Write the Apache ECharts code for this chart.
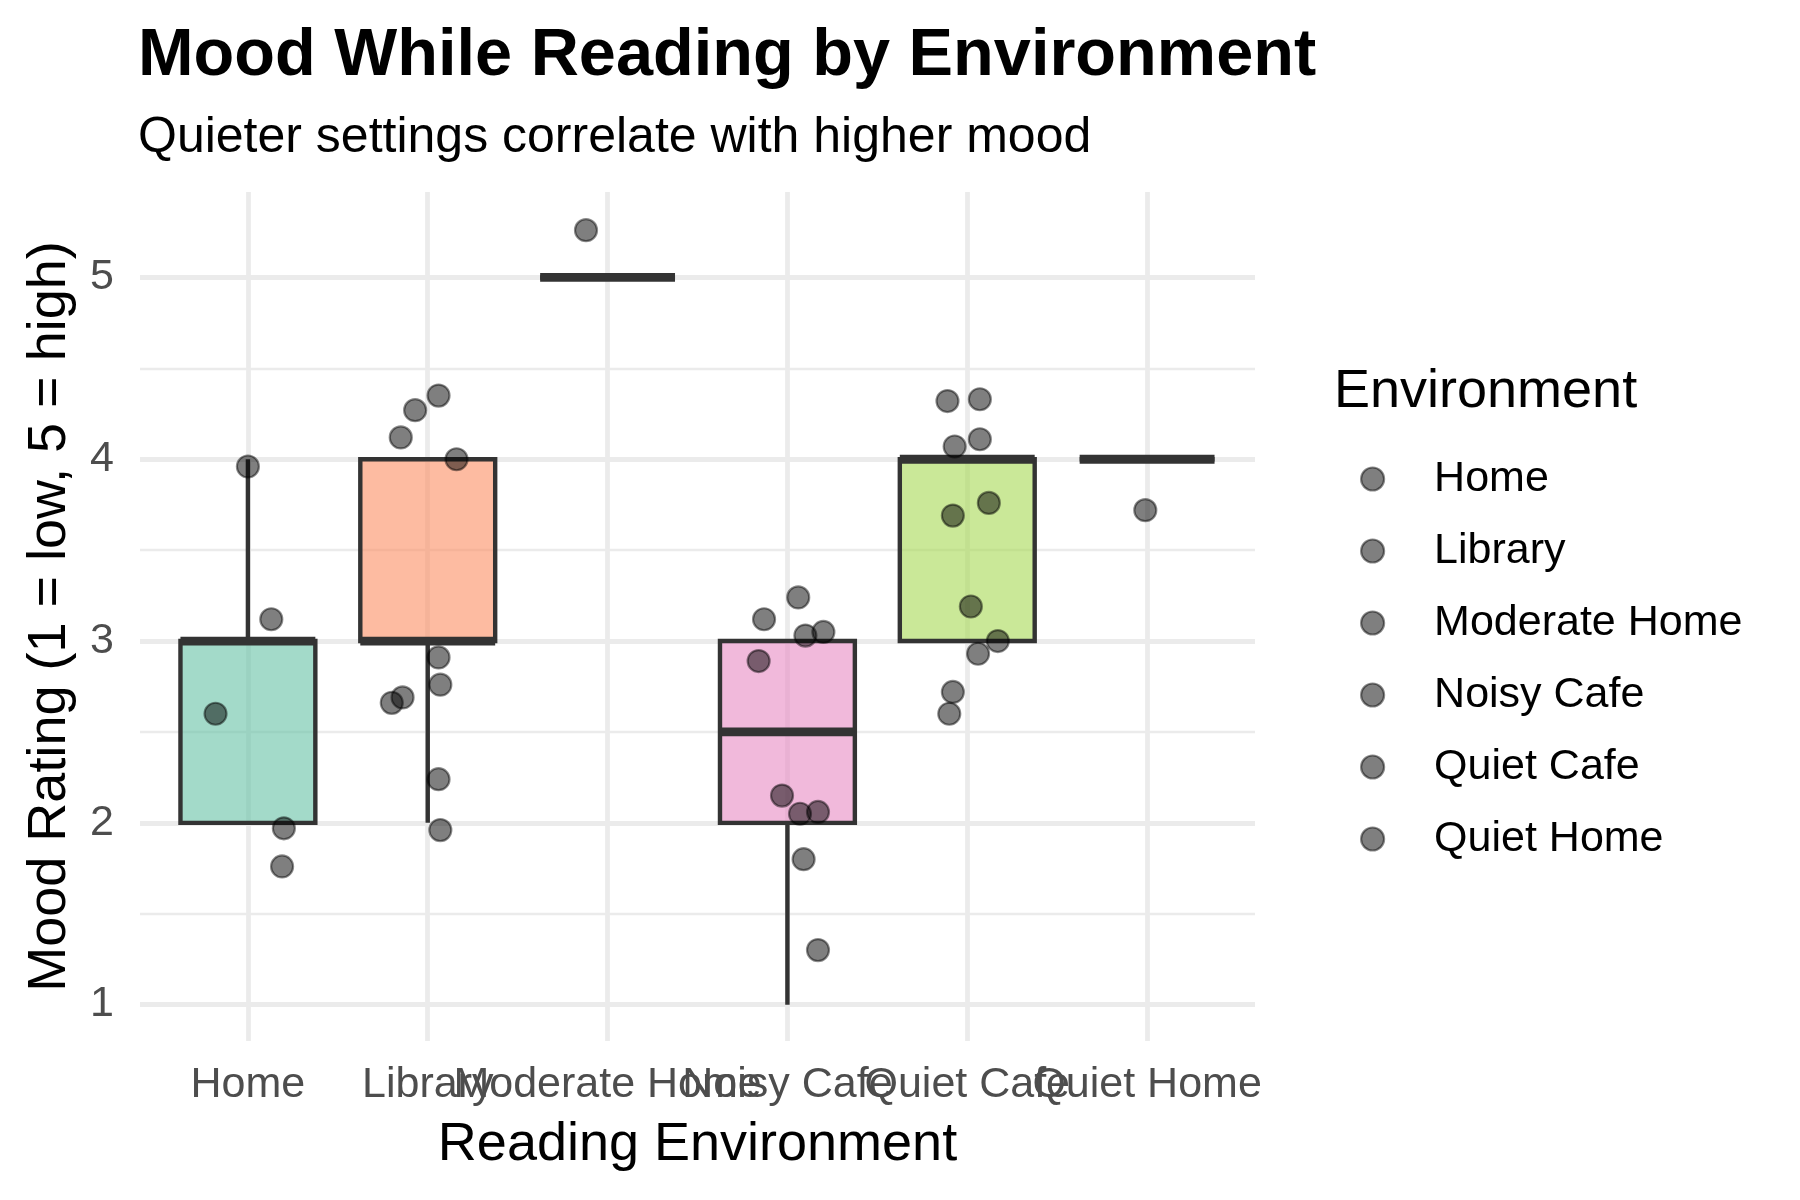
<!DOCTYPE html>
<html>
<head>
<meta charset="utf-8">
<script src="https://cdn.jsdelivr.net/npm/echarts@6/dist/echarts.min.js"></script>
<style>
html,body{margin:0;padding:0;background:#fff;}
#chart{width:1800px;height:1200px;}
</style>
</head>
<body>
<div id="chart"></div>
<script>
// ---------- data ----------
const categories = ['Home', 'Library', 'Moderate Home', 'Noisy Cafe', 'Quiet Cafe', 'Quiet Home'];

// box statistics per category
const whiskerLow  = [2, 2, 5, 1,   3, 4];
const q1Values    = [2, 3, 5, 2,   3, 4];
const medians     = [3, 3, 5, 2.5, 4, 4];
const q3Values    = [3, 4, 5, 3,   4, 4];
const whiskerHigh = [4, 4, 5, 3,   4, 4];

// jittered points (mood value, horizontal jitter in category units)
const homeMood = [3.96, 3.12, 2.60, 1.97, 1.76];
const homeJitter = [0.00, 0.13, -0.18, 0.20, 0.19];
const libraryMood = [4.35, 4.27, 4.12, 4.00, 2.91, 2.76, 2.69, 2.66, 2.24, 1.96];
const libraryJitter = [0.06, -0.07, -0.15, 0.16, 0.06, 0.07, -0.14, -0.20, 0.06, 0.07];
const moderateHomeMood = [5.26];
const moderateHomeJitter = [-0.12];
const noisyCafeMood = [3.24, 3.12, 3.03, 3.05, 2.89, 2.15, 2.05, 2.06, 1.80, 1.30];
const noisyCafeJitter = [0.06, -0.13, 0.10, 0.20, -0.16, -0.03, 0.07, 0.17, 0.09, 0.17];
const quietCafeMood = [4.32, 4.33, 4.07, 4.11, 3.69, 3.76, 3.19, 3.00, 2.93, 2.72, 2.60];
const quietCafeJitter = [-0.11, 0.07, -0.07, 0.07, -0.08, 0.12, 0.02, 0.17, 0.06, -0.08, -0.10];
const quietHomeMood = [3.72];
const quietHomeJitter = [-0.01];

const majorY = [1, 2, 3, 4, 5];
const minorY = [1.5, 2.5, 3.5, 4.5];
const majorX = [0, 1, 2, 3, 4, 5];

// ---------- styles ----------
const FONT = "'Liberation Sans', Arial, Helvetica, sans-serif";
const boxFills = ['rgba(102,194,165,0.6)', 'rgba(252,141,98,0.6)', 'rgba(141,160,203,0.6)',
                  'rgba(231,138,195,0.6)', 'rgba(166,216,84,0.6)', 'rgba(255,217,47,0.6)'];
const BOX_WIDTH = 0.75;
const GRID_COLOR = '#EBEBEB';

const moodByCat = [homeMood, libraryMood, moderateHomeMood, noisyCafeMood, quietCafeMood, quietHomeMood];
const jitterByCat = [homeJitter, libraryJitter, moderateHomeJitter, noisyCafeJitter, quietCafeJitter, quietHomeJitter];

const boxData = categories.map((c, i) => [i, whiskerLow[i], q1Values[i], medians[i], q3Values[i], whiskerHigh[i]]);

function renderBox(params, api) {
  const x = api.value(0);
  const lo = api.value(1), q1 = api.value(2), med = api.value(3), q3 = api.value(4), hi = api.value(5);
  const half = api.size([BOX_WIDTH, 0])[0] / 2;
  const pLo = api.coord([x, lo]), pQ1 = api.coord([x, q1]), pMed = api.coord([x, med]);
  const pQ3 = api.coord([x, q3]), pHi = api.coord([x, hi]);
  const cx = pQ1[0];
  const stroke = '#333333';
  const children = [];
  if (lo < q1) {
    children.push({type: 'line', shape: {x1: cx, y1: pLo[1], x2: cx, y2: pQ1[1]},
      style: {stroke: stroke, lineWidth: 4.4}});
  }
  if (hi > q3) {
    children.push({type: 'line', shape: {x1: cx, y1: pQ3[1], x2: cx, y2: pHi[1]},
      style: {stroke: stroke, lineWidth: 4.4}});
  }
  children.push({type: 'rect', shape: {x: cx - half, y: pQ3[1], width: 2 * half, height: pQ1[1] - pQ3[1]},
    style: {fill: boxFills[params.dataIndex], stroke: stroke, lineWidth: 4.4}});
  children.push({type: 'line', shape: {x1: cx - half, y1: pMed[1], x2: cx + half, y2: pMed[1]},
    style: {stroke: stroke, lineWidth: 8.8, lineCap: 'butt'}});
  return {type: 'group', children: children};
}

const gridLines = [];
majorY.forEach(v => gridLines.push({yAxis: v, lineStyle: {width: 4.8, color: GRID_COLOR, type: 'solid'}}));
minorY.forEach(v => gridLines.push({yAxis: v, lineStyle: {width: 2.4, color: GRID_COLOR, type: 'solid'}}));
majorX.forEach(v => gridLines.push({xAxis: v, lineStyle: {width: 4.8, color: GRID_COLOR, type: 'solid'}}));

const pointSeries = categories.map((name, i) => ({
  name: name,
  type: 'scatter',
  z: 20,
  symbol: 'circle',
  symbolSize: 22,
  silent: true,
  itemStyle: {color: 'rgba(0,0,0,0.5)', borderColor: 'rgba(0,0,0,0.45)', borderWidth: 2.2, opacity: 1},
  data: moodByCat[i].map((m, k) => [i + jitterByCat[i][k], m])
}));

function isInt(v) { return Math.abs(v - Math.round(v)) < 1e-6; }

const option = {
  animation: false,
  backgroundColor: '#ffffff',
  textStyle: {fontFamily: FONT},
  title: [
    {text: 'Mood While Reading by Environment', left: 138, top: 23, padding: 0,
     textStyle: {fontFamily: FONT, fontSize: 66.7, fontWeight: 'bold', color: '#000', lineHeight: 67}},
    {text: 'Quieter settings correlate with higher mood', left: 138, top: 113.5, padding: 0,
     textStyle: {fontFamily: FONT, fontSize: 50, fontWeight: 'normal', color: '#000', lineHeight: 50}},
    {text: 'Environment', left: 1334, top: 365.5, padding: 0,
     textStyle: {fontFamily: FONT, fontSize: 54, fontWeight: 'normal', color: '#000', lineHeight: 54}}
  ],
  legend: {
    orient: 'vertical',
    left: 1360,
    top: 457.5,
    padding: 0,
    itemWidth: 113,
    itemHeight: 23,
    itemGap: 29,
    icon: 'circle',
    selectedMode: false,
    data: categories,
    itemStyle: {color: 'rgba(0,0,0,0.5)', borderColor: 'rgba(0,0,0,0.45)', borderWidth: 2.2},
    textStyle: {fontFamily: FONT, fontSize: 43, color: '#000', lineHeight: 43, padding: 0}
  },
  grid: {left: 140, right: 545, top: 192, bottom: 159, containLabel: false},
  xAxis: {
    type: 'value',
    min: -0.6,
    max: 5.6,
    interval: 0.2,
    axisLine: {show: false},
    axisTick: {show: false},
    splitLine: {show: false},
    axisLabel: {
      show: true, margin: 22.5, color: '#4D4D4D', fontFamily: FONT, fontSize: 43,
      hideOverlap: false,
      formatter: function (v) {
        const r = Math.round(v);
        return (isInt(v) && r >= 0 && r < categories.length) ? categories[r] : '';
      }
    },
    name: 'Reading Environment',
    nameLocation: 'middle',
    nameGap: 77,
    nameTextStyle: {fontFamily: FONT, fontSize: 54, color: '#000', lineHeight: 54}
  },
  yAxis: {
    type: 'value',
    min: 0.8,
    max: 5.47,
    interval: 0.2,
    axisLine: {show: false},
    axisTick: {show: false},
    splitLine: {show: false},
    axisLabel: {
      show: true, margin: 26, color: '#4D4D4D', fontFamily: FONT, fontSize: 43,
      formatter: function (v) { return isInt(v) ? String(Math.round(v)) : ''; }
    },
    name: 'Mood Rating (1 = low, 5 = high)',
    nameLocation: 'middle',
    nameRotate: 90,
    nameGap: 63,
    nameTextStyle: {fontFamily: FONT, fontSize: 54, color: '#000', lineHeight: 54}
  },
  series: [
    {
      name: 'gridlines',
      type: 'line',
      data: [],
      z: 1,
      silent: true,
      markLine: {
        silent: true,
        z: 1,
        symbol: ['none', 'none'],
        label: {show: false},
        emphasis: {disabled: true},
        data: gridLines
      }
    },
    {
      name: 'boxes',
      type: 'custom',
      z: 10,
      silent: true,
      renderItem: renderBox,
      encode: {x: 0, y: [1, 2, 3, 4, 5]},
      data: boxData
    }
  ].concat(pointSeries)
};

const chart = echarts.init(document.getElementById('chart'), null, {renderer: 'canvas'});
chart.setOption(option);
</script>
</body>
</html>
